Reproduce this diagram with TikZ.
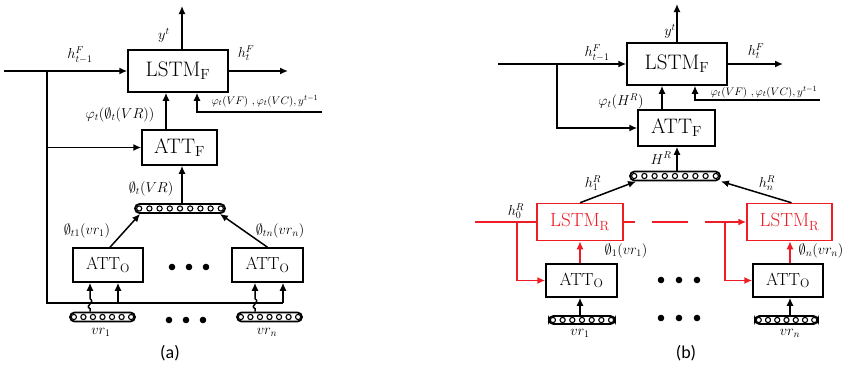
\documentclass[tikz,border=0pt]{standalone}
\usepackage{fontspec}
\newfontfamily\capfont{Carlito}
\usetikzlibrary{arrows.meta,calc}
\definecolor{myred}{RGB}{238,28,36}
\newcommand\vecdots[2]{%
  \foreach \k in {1,...,#2}{%
    \draw[line width=1.1pt,fill=white] ($(#1.west)!{(\k-0.5)/#2}!(#1.east)$) circle (2.6pt);}}
\newcommand\threedots[2]{%
  \foreach \k in {0,1,2}{\fill ($(#1)+(\k*#2,0)$) circle (3.3pt);}}
\begin{document}
\begin{tikzpicture}[x=1pt,y=-1pt,
  box/.style={draw,line width=1.5pt,inner sep=0pt,fill=white},
  bigbox/.style={box,font=\fontsize{21}{23}\selectfont},
  smallbox/.style={box,font=\fontsize{17.5}{19}\selectfont},
  redbox/.style={box,draw=myred,text=myred,font=\fontsize{19}{21}\selectfont},
  ln/.style={line width=1.5pt},
  arr/.style={line width=1.5pt,-{Latex[length=8pt,width=7pt]}},
  redln/.style={ln,draw=myred},
  redarr/.style={arr,draw=myred,color=myred},
  vbar/.style={draw,line width=1.8pt,rounded corners=4.5pt,inner sep=0pt,fill=white},
  lab/.style={inner sep=0pt,font=\fontsize{14.4}{16}\selectfont},
  slab/.style={inner sep=0pt,font=\fontsize{10.95}{12}\selectfont},
  captxt/.style={inner sep=0pt,font=\capfont\fontsize{18}{20}\selectfont}]
\useasboundingbox (0,0) rectangle (855,370);

% ================= panel (a) =================
\node[bigbox,minimum width=100pt,minimum height=42pt] (LSTMa) at (178,71) {LSTM\textsubscript{F}};
\node[bigbox,minimum width=75pt,minimum height=35pt] (ATTFa) at (179.5,147.5) {ATT\textsubscript{F}};
\node[vbar,minimum width=90pt,minimum height=9pt] (veca) at (180,208.5) {};
\vecdots{veca}{9}
\node[smallbox,minimum width=70pt,minimum height=34pt] (ATTOa1) at (108,265) {ATT\textsubscript{O}};
\node[smallbox,minimum width=71pt,minimum height=34pt] (ATTOa2) at (267.5,265) {ATT\textsubscript{O}};
\node[vbar,minimum width=65pt,minimum height=9pt] (vr1a) at (102.5,317) {};
\vecdots{vr1a}{7}
\node[vbar,minimum width=65pt,minimum height=9pt] (vrna) at (269.5,317) {};
\vecdots{vrna}{7}

\coordinate (ina) at (4,71);
\coordinate (ja) at (47,71);
\coordinate (ya) at (182,6);
\coordinate (outa) at (288,71);
\coordinate (ca) at (47,303);
\coordinate (cb) at (118,303);
\coordinate (cc) at (283,303);
\coordinate (fa) at (166,0);
\coordinate (s2a) at (197,112);
\coordinate (s2ae) at (322,112);
\coordinate (va) at (182,0);
\coordinate (wa) at (90,0);
\coordinate (wb) at (255,0);
\coordinate (dotsa1) at (172,267);
\coordinate (dotsa2) at (169,320);

\draw[arr] (LSTMa.north -| ya) -- (ya);
\draw[arr] (ina) -- (LSTMa.west);
\draw[arr] (LSTMa.east) -- (outa);
\draw[ln] (ja) -- (ca) -- (cc);
\draw[arr] (cc) -- (ATTOa2.south -| cc);
\draw[arr] (cb) -- (ATTOa1.south -| cb);
\draw[arr] (ja |- ATTFa.west) -- (ATTFa.west);
\draw[arr] (ATTFa.north -| fa) -- (LSTMa.south -| fa);
\draw[arr] (s2ae) -- (s2a) -- (LSTMa.south -| s2a);
\draw[arr] (veca.north -| va) -- (ATTFa.south -| va);
\draw[arr] ($(ATTOa1.north)+(2,0)$) -- ($(veca.south west)+(6,0)$);
\draw[arr] (ATTOa2.north) -- ($(veca.south east)+(-6,0)$);
\draw[arr] (vr1a.north -| wa) -- ++(0,-3) .. controls +(-6,-3) and +(6,4) .. ++(0,-10) -- (ATTOa1.south -| wa);
\draw[arr] (vrna.north -| wb) -- ++(0,-3) .. controls +(-6,-3) and +(6,4) .. ++(0,-10) -- (ATTOa2.south -| wb);
\threedots{dotsa1}{17}
\threedots{dotsa2}{17}

\node[lab] (lya) at (164,35) {$y^{t}$};
\node[lab] (lhina) at (80,55) {$h_{t-1}^{F}$};
\node[lab] (lhouta) at (246,53) {$h_{t}^{F}$};
\node[lab] (lphia) at (120,115) {$\varphi_t(\emptyset_t(VR))$};
\node[slab] (lina) at (265,101) {$\varphi_t(VF)\ ,\varphi_t(VC), y^{t-1}$};
\node[lab] (lvra) at (151,189) {$\emptyset_t(VR)$};
\node[lab] (lo1a) at (87,231) {$\emptyset_{t1}(vr_1)$};
\node[lab] (lona) at (280,231) {$\emptyset_{tn}(vr_n)$};
\node[lab] (lv1a) at (101,332) {$vr_1$};
\node[lab] (lvna) at (267,332) {$vr_n$};
\node[captxt] (capa) at (170,353) {(a)};

% ================= panel (b) =================
\node[bigbox,minimum width=100pt,minimum height=42pt] (LSTMb) at (677,64) {LSTM\textsubscript{F}};
\node[bigbox,minimum width=77pt,minimum height=36pt] (ATTFb) at (676.5,128) {ATT\textsubscript{F}};
\node[vbar,minimum width=90pt,minimum height=9pt] (vecb) at (675,176) {};
\vecdots{vecb}{9}
\node[redbox,minimum width=86pt,minimum height=37pt] (LSTMR1) at (580,222) {LSTM\textsubscript{R}};
\node[redbox,minimum width=85pt,minimum height=37pt] (LSTMR2) at (789.5,222) {LSTM\textsubscript{R}};
\node[smallbox,minimum width=71pt,minimum height=33pt] (ATTOb1) at (581.5,280.5) {ATT\textsubscript{O}};
\node[smallbox,minimum width=70pt,minimum height=33pt] (ATTOb2) at (788,280.5) {ATT\textsubscript{O}};
\node[vbar,minimum width=66pt,minimum height=8pt] (vr1b) at (582,320) {};
\vecdots{vr1b}{7}
\node[vbar,minimum width=63pt,minimum height=8pt] (vrnb) at (786.5,320) {};
\vecdots{vrnb}{7}

\coordinate (inb) at (498,64);
\coordinate (jb) at (557,64);
\coordinate (yb) at (677,4);
\coordinate (outb) at (783,64);
\coordinate (fb) at (662,0);
\coordinate (s2b) at (695,100);
\coordinate (s2be) at (820,100);
\coordinate (vb) at (677,0);
\coordinate (r0) at (475,222);
\coordinate (rj1) at (517,222);
\coordinate (rd1) at (652,222);
\coordinate (rd2) at (688,222);
\coordinate (rd3) at (705,222);
\coordinate (rj2) at (725,222);
\coordinate (xa1) at (580,0);
\coordinate (xa2) at (790,0);
\coordinate (dotsb1) at (661,280);
\coordinate (dotsb2) at (661,318);

\draw[arr] (LSTMb.north) -- (yb);
\draw[arr] (inb) -- (LSTMb.west);
\draw[arr] (LSTMb.east) -- (outb);
\draw[arr] (jb) |- (ATTFb.west);
\draw[arr] (ATTFb.north -| fb) -- (LSTMb.south -| fb);
\draw[arr] (s2be) -- (s2b) -- (LSTMb.south -| s2b);
\draw[arr] (vecb.north -| vb) -- (ATTFb.south -| vb);
\draw[arr] (LSTMR1.north) -- ($(vecb.south west)+(7,0)$);
\draw[arr] ($(LSTMR2.north)+(2,0)$) -- ($(vecb.south east)+(0,0)$);
\draw[redln] (r0) -- (LSTMR1.west);
\draw[redarr] (rj1) |- (ATTOb1.west);
\draw[redln] (LSTMR1.east) -- ++(11,0);
\draw[redln] (rd1) -- (rd2);
\draw[redarr] (rd3) -- (LSTMR2.west);
\draw[redarr] (rj2) |- (ATTOb2.west);
\draw[redarr] (ATTOb1.north -| xa1) -- (LSTMR1.south -| xa1);
\draw[redarr] (ATTOb2.north -| xa2) -- (LSTMR2.south -| xa2);
\draw[arr] (vr1b.north -| xa1) -- (ATTOb1.south -| xa1);
\draw[arr] (vrnb.north -| xa2) -- (ATTOb2.south -| xa2);
\threedots{dotsb1}{18}
\threedots{dotsb2}{18}

\node[lab] (lyb) at (670,31) {$y^{t}$};
\node[lab] (lhinb) at (597,53) {$h_{t-1}^{F}$};
\node[lab] (lhoutb) at (756,51) {$h_{t}^{F}$};
\node[lab] (lphib) at (621,101) {$\varphi_t(H^{R})$};
\node[slab] (linb) at (764,92) {$\varphi_t(VF)\ ,\varphi_t(VC), y^{t-1}$};
\node[lab] (lHR) at (661,158) {$H^{R}$};
\node[lab] (lh1) at (593,183) {$h_1^{R}$};
\node[lab] (lhn) at (767,183) {$h_n^{R}$};
\node[lab] (lh0) at (516,211) {$h_0^{R}$};
\node[lab] (lo1b) at (626,251) {$\emptyset_1(vr_1)$};
\node[lab] (lonb) at (821,251) {$\emptyset_n(vr_n)$};
\node[lab] (lv1b) at (580,333) {$vr_1$};
\node[lab] (lvnb) at (790,333) {$vr_n$};
\node[captxt] (capb) at (686,353) {(b)};
\end{tikzpicture}
\end{document}
